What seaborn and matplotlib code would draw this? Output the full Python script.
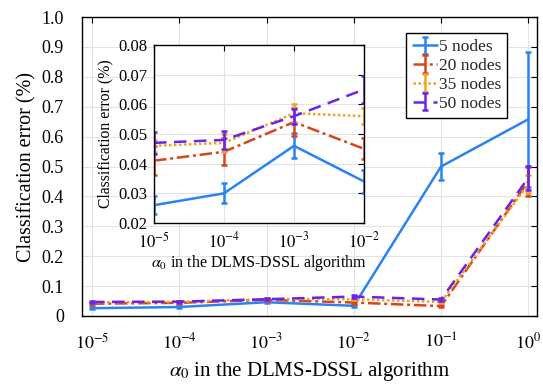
import numpy as np
import pandas as pd
import matplotlib
matplotlib.use("Agg")
import matplotlib.pyplot as plt
import seaborn as sns
from matplotlib.ticker import FixedLocator, FuncFormatter, NullLocator
from matplotlib.legend_handler import HandlerTuple

# ---- data ----
alpha = [1e-5, 1e-4, 1e-3, 1e-2, 1e-1, 1e0]
series = ["5 nodes", "20 nodes", "35 nodes", "50 nodes"]
err_5 = [0.026, 0.030, 0.046, 0.034, 0.500, 0.658]
err_20 = [0.041, 0.044, 0.054, 0.045, 0.033, 0.450]
err_35 = [0.046, 0.047, 0.057, 0.056, 0.047, 0.440]
err_50 = [0.047, 0.048, 0.056, 0.065, 0.055, 0.462]
sd_5 = [0.003, 0.0034, 0.0042, 0.004, 0.045, 0.225]
sd_20 = [0.0049, 0.0045, 0.0048, 0.0035, 0.004, 0.05]
sd_35 = [0.002, 0.003, 0.003, 0.0027, 0.003, 0.03]
sd_50 = [0.0036, 0.003, 0.0025, 0.0045, 0.004, 0.04]
main_yticks = [0, 0.1, 0.2, 0.3, 0.4, 0.5, 0.6, 0.7, 0.8, 0.9, 1.0]
inset_yticks = [0.02, 0.03, 0.04, 0.05, 0.06, 0.07, 0.08]
xticks_main = [1e-5, 1e-4, 1e-3, 1e-2, 1e-1, 1e0]
xticks_inset = [1e-5, 1e-4, 1e-3, 1e-2]
xlabel = r"$\alpha_0$ in the DLMS-DSSL algorithm"
ylabel = "Classification error (%)"

vals = [err_5, err_20, err_35, err_50]
sds = [sd_5, sd_20, sd_35, sd_50]
df = pd.DataFrame({
    "alpha": np.tile(alpha, len(series)),
    "err": np.concatenate(vals),
    "sd": np.concatenate(sds),
    "series": np.repeat(series, len(alpha)),
})

colors = ["#2a83f2", "#d9441a", "#eca423", "#6a22ee"]
styles = ["-", (0, (5, 1.5, 1.2, 1.5)), (0, (1, 1)), (0, (5, 3))]

sns.set_theme(style="whitegrid")
plt.rcParams["font.family"] = ["Liberation Serif", "DejaVu Serif"]
plt.rcParams["mathtext.fontset"] = "stix"

fig = plt.figure(figsize=(5.43, 3.87), dpi=100)
ax = fig.add_axes([0.151, 0.1835, 0.838, 0.7725])
axin = fig.add_axes([0.2836, 0.4238, 0.3867, 0.46])


def draw(a, sub):
    handles = []
    for s, c, ls in zip(series, colors, styles):
        d = sub[sub["series"] == s]
        sns.lineplot(data=d, x="alpha", y="err", ax=a, color=c, linestyle=ls,
                     linewidth=1.8, legend=False, errorbar=None)
        line = a.get_lines()[-1]
        eb = a.errorbar(d["alpha"], d["err"], yerr=d["sd"], fmt="none",
                        ecolor=c, elinewidth=1.8, capsize=2.5, capthick=1.8)
        handles.append((line, eb))
    return handles


handles = draw(ax, df)
draw(axin, df[df["alpha"] <= 1e-2])

for a in (ax, axin):
    a.set_xscale("log")
    a.xaxis.set_minor_locator(NullLocator())
    a.grid(True, color="#e3e3e3", linewidth=0.8)
    for sp in a.spines.values():
        sp.set_color("black")
        sp.set_linewidth(1.0)
    a.tick_params(direction="in", top=True, right=True, length=4, width=0.8,
                  colors="black")
    a.set_facecolor("white")

ax.set_xlim(10 ** -5.115, 10 ** 0.1)
ax.set_ylim(0, 1.0)
ax.xaxis.set_major_locator(FixedLocator(xticks_main))
ax.yaxis.set_major_locator(FixedLocator(main_yticks))
ax.yaxis.set_major_formatter(FuncFormatter(lambda v, p: "0" if abs(v) < 1e-9 else f"{v:.1f}"))
ax.xaxis.set_major_formatter(FuncFormatter(lambda v, p: r"$10^{%d}$" % round(np.log10(v))))
ax.tick_params(axis="y", labelsize=13, pad=13)
ax.tick_params(axis="x", labelsize=13, pad=12)
ax.set_xlabel(xlabel, fontsize=15, labelpad=5, color="black")
ax.set_ylabel(ylabel, fontsize=14.5, labelpad=4, color="black")

axin.set_xlim(1e-5, 1e-2)
axin.set_ylim(0.02, 0.08)
axin.xaxis.set_major_locator(FixedLocator(xticks_inset))
axin.yaxis.set_major_locator(FixedLocator(inset_yticks))
axin.yaxis.set_major_formatter(FuncFormatter(lambda v, p: f"{v:.2f}"))
axin.xaxis.set_major_formatter(FuncFormatter(lambda v, p: r"$10^{%d}$" % round(np.log10(v))))
axin.tick_params(axis="y", labelsize=12, pad=5)
axin.tick_params(axis="x", labelsize=12, pad=6)
axin.set_xlabel(xlabel, fontsize=11.5, labelpad=1, color="black")
axin.set_ylabel(ylabel, fontsize=11.3, labelpad=3, color="black")

leg = ax.legend(handles, series, handler_map={tuple: HandlerTuple(ndivide=1)},
                loc="upper right", bbox_to_anchor=(0.934, 0.946), fontsize=12.5,
                frameon=True, fancybox=False, edgecolor="black", framealpha=1,
                handlelength=1.4, handletextpad=0.1, borderpad=0.35,
                labelspacing=0.15, borderaxespad=0)
leg.get_frame().set_linewidth(1.0)

fig.savefig("out.png", dpi=100)
